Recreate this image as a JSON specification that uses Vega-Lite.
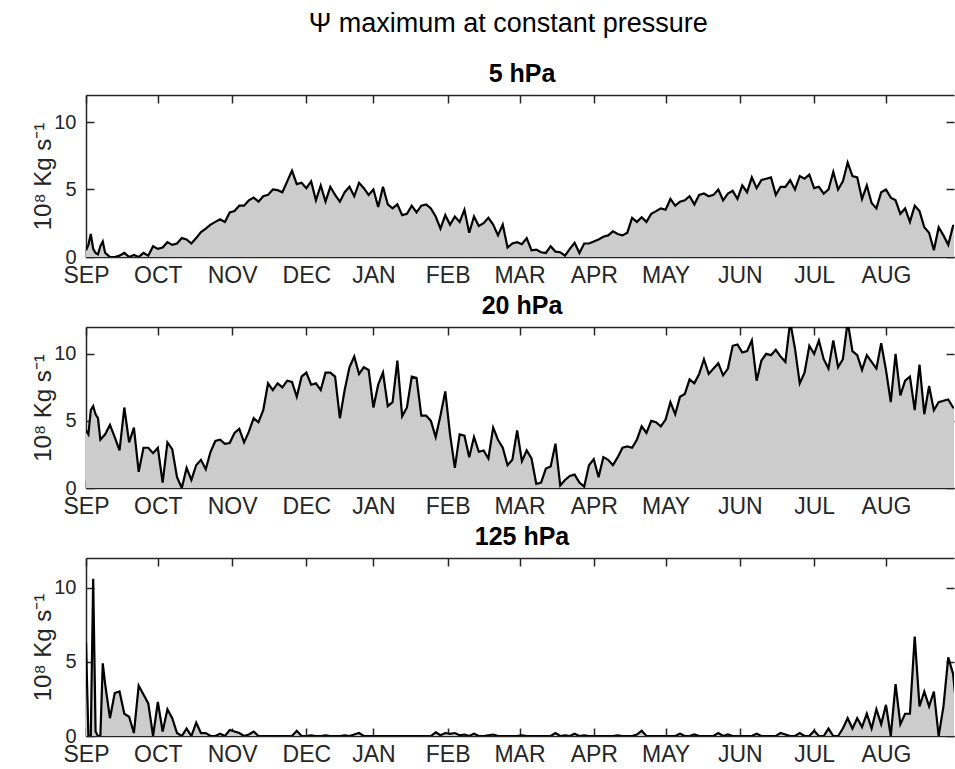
{
  "$schema": "https://vega.github.io/schema/vega-lite/v6.json",
  "padding": {"left": 31, "top": 10, "right": 0, "bottom": 0},
  "background": "white",
  "title": {"text": "Ψ maximum at constant pressure", "font": "Liberation Sans", "fontSize": 27, "fontWeight": "normal", "color": "#000000", "anchor": "middle", "offset": 24, "dx": 15},
  "config": {
    "view": {"stroke": null},
    "axis": {"domainColor": "#262626", "tickColor": "#262626", "labelColor": "#262626", "titleColor": "#262626", "labelFont": "Liberation Sans", "titleFont": "Liberation Sans", "domainWidth": 1.5, "tickWidth": 1.5, "grid": false, "zindex": 1, "labelFlush": false, "labelOverlap": false}
  },
  "data": {"values": [
    {"d":0,"p5":0.5,"p20":4.3,"p125":6.3},{"d":1,"p5":0.9,"p20":4.0,"p125":0},{"d":2,"p5":1.7,"p20":5.8,"p125":0},{"d":3,"p5":0.6,"p20":6.1,"p125":10.6},{"d":4,"p5":0.3,"p20":5.5,"p125":0.3},{"d":5,"p5":0.2,"p20":5.2,"p125":0},{"d":6,"p5":0.8,"p20":3.6,"p125":0},{"d":7,"p5":1.15,"p20":3.8,"p125":4.9},{"d":8,"p5":0.3,"p20":4.0,"p125":3.5},
    {"d":10,"p5":0,"p20":4.7,"p125":1.2},{"d":12,"p5":0,"p20":3.8,"p125":2.9},{"d":14,"p5":0.1,"p20":2.8,"p125":3.0},{"d":16,"p5":0.3,"p20":6.0,"p125":1.5},{"d":18,"p5":0,"p20":3.4,"p125":1.3},{"d":20,"p5":0.15,"p20":4.5,"p125":0.2},{"d":22,"p5":0,"p20":1.2,"p125":3.4},{"d":24,"p5":0.3,"p20":3.0,"p125":2.8},{"d":26,"p5":0.1,"p20":3.0,"p125":2.2},{"d":28,"p5":0.8,"p20":2.6,"p125":0},
    {"d":30,"p5":0.6,"p20":3.0,"p125":2.3},{"d":32,"p5":0.7,"p20":0.4,"p125":0.3},{"d":34,"p5":1.1,"p20":3.4,"p125":1.8},{"d":36,"p5":0.9,"p20":2.9,"p125":1.2},{"d":38,"p5":1.0,"p20":0.8,"p125":0.2},{"d":40,"p5":1.4,"p20":0,"p125":0},{"d":42,"p5":1.3,"p20":1.5,"p125":0.5},{"d":44,"p5":1.0,"p20":0.6,"p125":0},{"d":46,"p5":1.4,"p20":1.7,"p125":0.9},{"d":48,"p5":1.85,"p20":2.1,"p125":0.2},
    {"d":50,"p5":2.1,"p20":1.4,"p125":0.2},{"d":52,"p5":2.4,"p20":2.7,"p125":0},{"d":54,"p5":2.6,"p20":3.5,"p125":0},{"d":56,"p5":2.8,"p20":3.6,"p125":0.15},{"d":58,"p5":2.6,"p20":3.3,"p125":0},{"d":60,"p5":3.3,"p20":3.35,"p125":0.4},{"d":62,"p5":3.4,"p20":4.1,"p125":0.3},{"d":64,"p5":3.8,"p20":4.4,"p125":0.2},{"d":66,"p5":3.8,"p20":3.4,"p125":0},{"d":68,"p5":4.2,"p20":4.2,"p125":0.1},
    {"d":70,"p5":4.4,"p20":5.2,"p125":0.3},{"d":72,"p5":4.1,"p20":4.9,"p125":0},{"d":74,"p5":4.5,"p20":5.8,"p125":0},{"d":76,"p5":4.6,"p20":7.8,"p125":0},{"d":78,"p5":5.0,"p20":7.3,"p125":0},{"d":80,"p5":4.95,"p20":7.8,"p125":0},{"d":82,"p5":4.8,"p20":7.5,"p125":0},{"d":84,"p5":5.6,"p20":8.0,"p125":0},{"d":86,"p5":6.4,"p20":7.9,"p125":0},{"d":88,"p5":5.4,"p20":6.8,"p125":0.35},
    {"d":90,"p5":5.5,"p20":8.3,"p125":0},{"d":92,"p5":5.1,"p20":8.6,"p125":0},{"d":94,"p5":5.6,"p20":7.7,"p125":0.05},{"d":96,"p5":4.2,"p20":7.8,"p125":0},{"d":98,"p5":5.3,"p20":7.3,"p125":0},{"d":100,"p5":4.1,"p20":8.6,"p125":0.05},{"d":102,"p5":5.2,"p20":8.6,"p125":0},{"d":104,"p5":4.6,"p20":8.3,"p125":0},{"d":106,"p5":4.1,"p20":5.2,"p125":0},{"d":108,"p5":4.8,"p20":7.3,"p125":0.05},
    {"d":110,"p5":5.2,"p20":9.0,"p125":0},{"d":112,"p5":4.5,"p20":9.8,"p125":0.1},{"d":114,"p5":5.5,"p20":8.5,"p125":0.2},{"d":116,"p5":5.1,"p20":9.0,"p125":0},{"d":118,"p5":4.6,"p20":8.8,"p125":0},{"d":120,"p5":5.0,"p20":6.0,"p125":0},{"d":122,"p5":3.7,"p20":7.7,"p125":0},{"d":124,"p5":5.2,"p20":8.6,"p125":0},{"d":126,"p5":3.9,"p20":6.1,"p125":0},{"d":128,"p5":3.6,"p20":6.4,"p125":0},
    {"d":130,"p5":3.9,"p20":9.5,"p125":0},{"d":132,"p5":3.1,"p20":5.35,"p125":0},{"d":134,"p5":3.2,"p20":6.0,"p125":0},{"d":136,"p5":3.8,"p20":8.3,"p125":0},{"d":138,"p5":3.3,"p20":8.2,"p125":0},{"d":140,"p5":3.8,"p20":5.4,"p125":0},{"d":142,"p5":3.9,"p20":5.4,"p125":0},{"d":144,"p5":3.6,"p20":5.0,"p125":0},{"d":146,"p5":3.0,"p20":3.8,"p125":0.25},{"d":148,"p5":2.1,"p20":5.4,"p125":0.05},
    {"d":150,"p5":3.1,"p20":7.2,"p125":0.2},{"d":152,"p5":2.4,"p20":4.0,"p125":0.15},{"d":154,"p5":3.0,"p20":1.5,"p125":0.2},{"d":156,"p5":2.6,"p20":4.0,"p125":0.05},{"d":158,"p5":3.5,"p20":3.9,"p125":0.1},{"d":160,"p5":1.8,"p20":2.3,"p125":0},{"d":162,"p5":3.0,"p20":3.8,"p125":0.15},{"d":164,"p5":2.3,"p20":2.7,"p125":0},{"d":166,"p5":2.5,"p20":2.8,"p125":0},{"d":168,"p5":2.9,"p20":2.2,"p125":0.05},
    {"d":170,"p5":2.4,"p20":4.5,"p125":0.1},{"d":172,"p5":1.6,"p20":3.6,"p125":0},{"d":174,"p5":2.4,"p20":3.0,"p125":0},{"d":176,"p5":0.7,"p20":1.7,"p125":0},{"d":178,"p5":1.0,"p20":2.1,"p125":0},{"d":180,"p5":1.1,"p20":4.3,"p125":0},{"d":182,"p5":0.95,"p20":2.0,"p125":0.05},{"d":184,"p5":1.4,"p20":2.8,"p125":0},{"d":186,"p5":0.5,"p20":2.2,"p125":0},{"d":188,"p5":0.55,"p20":0.3,"p125":0},
    {"d":190,"p5":0.35,"p20":0.4,"p125":0},{"d":192,"p5":0.3,"p20":1.45,"p125":0},{"d":194,"p5":0.8,"p20":1.6,"p125":0},{"d":196,"p5":0.4,"p20":3.3,"p125":0.2},{"d":198,"p5":0.35,"p20":0.2,"p125":0},{"d":200,"p5":0.1,"p20":0.6,"p125":0.05},{"d":202,"p5":0.6,"p20":0.9,"p125":0},{"d":204,"p5":1.05,"p20":1.0,"p125":0.15},{"d":206,"p5":0.3,"p20":0.4,"p125":0},{"d":208,"p5":1.0,"p20":0.1,"p125":0.05},
    {"d":210,"p5":1.0,"p20":1.7,"p125":0},{"d":212,"p5":1.15,"p20":2.15,"p125":0},{"d":214,"p5":1.3,"p20":0.8,"p125":0},{"d":216,"p5":1.5,"p20":2.3,"p125":0},{"d":218,"p5":1.6,"p20":2.1,"p125":0},{"d":220,"p5":1.9,"p20":1.7,"p125":0},{"d":222,"p5":1.7,"p20":2.3,"p125":0.05},{"d":224,"p5":1.6,"p20":3.0,"p125":0},{"d":226,"p5":1.8,"p20":3.1,"p125":0},{"d":228,"p5":2.9,"p20":3.0,"p125":0},
    {"d":230,"p5":2.6,"p20":3.6,"p125":0.1},{"d":232,"p5":2.95,"p20":4.6,"p125":0.35},{"d":234,"p5":2.6,"p20":4.1,"p125":0},{"d":236,"p5":3.2,"p20":5.0,"p125":0},{"d":238,"p5":3.4,"p20":4.9,"p125":0},{"d":240,"p5":3.6,"p20":4.6,"p125":0},{"d":242,"p5":3.5,"p20":5.1,"p125":0},{"d":244,"p5":4.3,"p20":6.4,"p125":0},{"d":246,"p5":3.8,"p20":5.5,"p125":0},{"d":248,"p5":4.1,"p20":6.8,"p125":0.15},
    {"d":250,"p5":4.2,"p20":7.0,"p125":0},{"d":252,"p5":4.5,"p20":8.1,"p125":0},{"d":254,"p5":3.9,"p20":7.8,"p125":0.1},{"d":256,"p5":4.6,"p20":8.5,"p125":0},{"d":258,"p5":4.7,"p20":9.6,"p125":0},{"d":260,"p5":4.5,"p20":8.5,"p125":0},{"d":262,"p5":4.6,"p20":8.9,"p125":0},{"d":264,"p5":5.0,"p20":9.3,"p125":0.2},{"d":266,"p5":4.2,"p20":8.4,"p125":0},{"d":268,"p5":4.7,"p20":8.9,"p125":0.1},
    {"d":270,"p5":4.9,"p20":10.6,"p125":0},{"d":272,"p5":4.3,"p20":10.7,"p125":0},{"d":274,"p5":5.3,"p20":10.1,"p125":0},{"d":276,"p5":4.8,"p20":10.2,"p125":0},{"d":278,"p5":5.9,"p20":11.0,"p125":0},{"d":280,"p5":5.1,"p20":8.0,"p125":0.15},{"d":282,"p5":5.7,"p20":9.5,"p125":0},{"d":284,"p5":5.8,"p20":10.0,"p125":0},{"d":286,"p5":5.9,"p20":9.9,"p125":0},{"d":288,"p5":4.6,"p20":10.3,"p125":0},
    {"d":290,"p5":5.2,"p20":9.8,"p125":0.2},{"d":292,"p5":5.2,"p20":9.4,"p125":0.1},{"d":294,"p5":5.7,"p20":12.4,"p125":0},{"d":296,"p5":5.0,"p20":10.4,"p125":0},{"d":298,"p5":6.0,"p20":7.8,"p125":0.2},{"d":300,"p5":5.8,"p20":8.6,"p125":0},{"d":302,"p5":6.1,"p20":10.6,"p125":0},{"d":304,"p5":5.1,"p20":10.0,"p125":0.35},{"d":306,"p5":5.2,"p20":11.0,"p125":0},{"d":308,"p5":4.7,"p20":9.6,"p125":0},
    {"d":310,"p5":5.0,"p20":8.9,"p125":0.5},{"d":312,"p5":6.3,"p20":11.0,"p125":0},{"d":314,"p5":5.0,"p20":9.0,"p125":0},{"d":316,"p5":5.6,"p20":9.6,"p125":0.5},{"d":318,"p5":7.0,"p20":12.4,"p125":1.2},{"d":320,"p5":6.0,"p20":10.2,"p125":0.5},{"d":322,"p5":5.9,"p20":9.9,"p125":1.2},{"d":324,"p5":4.3,"p20":8.8,"p125":0.6},{"d":326,"p5":5.3,"p20":9.9,"p125":1.5},{"d":328,"p5":4.0,"p20":9.4,"p125":0.5},
    {"d":330,"p5":3.6,"p20":8.9,"p125":1.8},{"d":332,"p5":4.8,"p20":10.8,"p125":0.8},{"d":334,"p5":5.0,"p20":8.8,"p125":2.1},{"d":336,"p5":4.4,"p20":6.4,"p125":0},{"d":338,"p5":4.2,"p20":10.0,"p125":3.5},{"d":340,"p5":3.2,"p20":6.9,"p125":0.8},{"d":342,"p5":3.6,"p20":8.0,"p125":1.5},{"d":344,"p5":2.6,"p20":8.3,"p125":1.5},{"d":346,"p5":3.8,"p20":5.8,"p125":6.7},{"d":348,"p5":3.4,"p20":9.2,"p125":2.0},
    {"d":350,"p5":2.2,"p20":5.5,"p125":3.0},{"d":352,"p5":1.8,"p20":7.6,"p125":2.0},{"d":354,"p5":0.5,"p20":5.8,"p125":3.0},{"d":356,"p5":2.2,"p20":6.4,"p125":0},{"d":358,"p5":1.6,"p20":6.5,"p125":2.0},{"d":360,"p5":0.9,"p20":6.6,"p125":5.3},{"d":362,"p5":2.3,"p20":6.0,"p125":4.2},{"d":364,"p5":2.4,"p20":6.0,"p125":1.0}
  ]},
  "bounds": "flush",
  "spacing": 70,
  "vconcat": [
    {
      "title": {"text": "5 hPa", "font": "Liberation Sans", "fontSize": 25, "fontWeight": "bold", "color": "#000000", "anchor": "middle", "offset": 7, "dx": 2},
      "width": 868, "height": 162,
      "resolve": {"axis": {"x": "independent", "y": "independent"}},
      "layer": [
        {"mark": {"type": "area", "color": "#cccccc", "opacity": 1, "clip": true},
         "encoding": {
           "x": {"field": "d", "type": "quantitative", "scale": {"domain": [0, 362.4], "nice": false, "zero": false},
                 "axis": {"orient": "bottom", "title": null, "values": [0,30,61,92,120,151,181,212,242,273,304,334], "labelExpr": "['SEP','OCT','NOV','DEC','JAN','FEB','MAR','APR','MAY','JUN','JUL','AUG'][indexof([0,30,61,92,120,151,181,212,242,273,304,334], datum.value)]", "labelFontSize": 23, "tickSize": -8, "labelPadding": 15}},
           "y": {"field": "p5", "type": "quantitative", "scale": {"domain": [0, 12], "nice": false},
                 "axis": {"orient": "left", "title": "10⁸ Kg s⁻¹", "titleFontSize": 24, "titleFontWeight": "normal", "values": [0,5,10], "labelFontSize": 20, "tickSize": -8, "labelPadding": 18, "titlePadding": -2}}
         }},
        {"mark": {"type": "line", "color": "#000000", "strokeWidth": 2.2, "clip": true},
         "encoding": {
           "x": {"field": "d", "type": "quantitative", "axis": {"orient": "top", "title": null, "labels": false, "values": [0,30,61,92,120,151,181,212,242,273,304,334], "tickSize": -8}},
           "y": {"field": "p5", "type": "quantitative", "axis": {"orient": "right", "title": null, "labels": false, "domain": false, "values": [0,5,10], "tickSize": -8}}
         }}
      ]
    },
    {
      "title": {"text": "20 hPa", "font": "Liberation Sans", "fontSize": 25, "fontWeight": "bold", "color": "#000000", "anchor": "middle", "offset": 7, "dx": 2},
      "width": 868, "height": 161,
      "resolve": {"axis": {"x": "independent", "y": "independent"}},
      "layer": [
        {"mark": {"type": "area", "color": "#cccccc", "opacity": 1, "clip": true},
         "encoding": {
           "x": {"field": "d", "type": "quantitative", "scale": {"domain": [0, 362.4], "nice": false, "zero": false},
                 "axis": {"orient": "bottom", "title": null, "values": [0,30,61,92,120,151,181,212,242,273,304,334], "labelExpr": "['SEP','OCT','NOV','DEC','JAN','FEB','MAR','APR','MAY','JUN','JUL','AUG'][indexof([0,30,61,92,120,151,181,212,242,273,304,334], datum.value)]", "labelFontSize": 23, "tickSize": -8, "labelPadding": 15}},
           "y": {"field": "p20", "type": "quantitative", "scale": {"domain": [0, 12], "nice": false},
                 "axis": {"orient": "left", "title": "10⁸ Kg s⁻¹", "titleFontSize": 24, "titleFontWeight": "normal", "values": [0,5,10], "labelFontSize": 20, "tickSize": -8, "labelPadding": 18, "titlePadding": -2}}
         }},
        {"mark": {"type": "line", "color": "#000000", "strokeWidth": 2.2, "clip": true},
         "encoding": {
           "x": {"field": "d", "type": "quantitative", "axis": {"orient": "top", "title": null, "labels": false, "values": [0,30,61,92,120,151,181,212,242,273,304,334], "tickSize": -8}},
           "y": {"field": "p20", "type": "quantitative", "axis": {"orient": "right", "title": null, "labels": false, "domain": false, "values": [0,5,10], "tickSize": -8}}
         }}
      ]
    },
    {
      "title": {"text": "125 hPa", "font": "Liberation Sans", "fontSize": 25, "fontWeight": "bold", "color": "#000000", "anchor": "middle", "offset": 7, "dx": 2},
      "width": 868, "height": 178,
      "resolve": {"axis": {"x": "independent", "y": "independent"}},
      "layer": [
        {"mark": {"type": "area", "color": "#cccccc", "opacity": 1, "clip": true},
         "encoding": {
           "x": {"field": "d", "type": "quantitative", "scale": {"domain": [0, 362.4], "nice": false, "zero": false},
                 "axis": {"orient": "bottom", "title": null, "values": [0,30,61,92,120,151,181,212,242,273,304,334], "labelExpr": "['SEP','OCT','NOV','DEC','JAN','FEB','MAR','APR','MAY','JUN','JUL','AUG'][indexof([0,30,61,92,120,151,181,212,242,273,304,334], datum.value)]", "labelFontSize": 23, "tickSize": -8, "labelPadding": 15}},
           "y": {"field": "p125", "type": "quantitative", "scale": {"domain": [0, 12], "nice": false},
                 "axis": {"orient": "left", "title": "10⁸ Kg s⁻¹", "titleFontSize": 24, "titleFontWeight": "normal", "values": [0,5,10], "labelFontSize": 20, "tickSize": -8, "labelPadding": 18, "titlePadding": -2}}
         }},
        {"mark": {"type": "line", "color": "#000000", "strokeWidth": 2.2, "clip": true},
         "encoding": {
           "x": {"field": "d", "type": "quantitative", "axis": {"orient": "top", "title": null, "labels": false, "values": [0,30,61,92,120,151,181,212,242,273,304,334], "tickSize": -8}},
           "y": {"field": "p125", "type": "quantitative", "axis": {"orient": "right", "title": null, "labels": false, "domain": false, "values": [0,5,10], "tickSize": -8}}
         }}
      ]
    }
  ]
}
